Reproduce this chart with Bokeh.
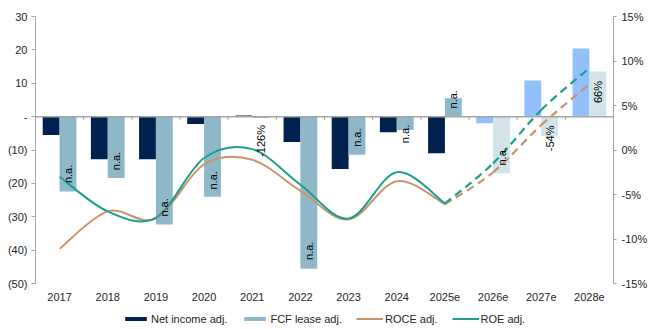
import math

from bokeh.plotting import figure
from bokeh.models import (ColumnDataSource, Range1d, LinearAxis, FixedTicker,
                          CustomJSTickFormatter, Span, Legend, LegendItem)
from bokeh.core.properties import value
from bokeh.embed import file_html
from bokeh.resources import INLINE

# ---- data -------------------------------------------------------------
years = ["2017", "2018", "2019", "2020", "2021", "2022", "2023", "2024",
         "2025e", "2026e", "2027e", "2028e"]
net_income_adj = [-5.5, -12.8, -12.8, -2.2, 0.3, -7.6, -15.7, -4.7,
                  -11.0, -2.0, 10.8, 20.4]
fcf_lease_adj = [-22.4, -18.4, -32.3, -24.0, -0.4, -45.6, -11.4, -4.0,
                 5.5, -17.0, -5.9, 13.5]
fcf_growth_labels = ["n.a.", "n.a.", "n.a.", "n.a.", "-126%", "n.a.", "n.a.",
                     "n.a.", "n.a.", "n.a.", "-54%", "66%"]
roce_adj = [-11.1, -6.9, -7.7, -1.6, -1.1, -4.6, -7.8, -3.5,
            -6.1, -2.5, 2.8, 7.4]   # %
roe_adj = [-3.0, -6.9, -7.6, -0.9, 0.1, -3.9, -7.7, -2.5,
           -6.0, -1.5, 4.5, 9.2]    # %

left_lo, left_hi = -50, 30
right_lo, right_hi = -15, 15

# ---- styling ----------------------------------------------------------
FONT = "Liberation Sans"
NAVY, NAVY_EST = "#00214E", "#93BFFB"
TEAL_BAR, TEAL_BAR_EST = "#8EB8C8", "#D2E3E9"
ROCE_C, ROE_C = "#C8956B", "#1E9E8C"
AXIS_C, TEXT_C = "#A6A6A6", "#262626"
BAR_W = 0.35

W, H = 650, 329
TOP, AXIS_PX = 16, 267          # plotted value band: top offset and height
FOOT = H - TOP - AXIS_PX        # room under the value band (years + legend)

line_split = years.index("2025e")      # solid up to here, dashed after
shade_split = years.index("2026e")     # lighter bar shades from here
# screen shift (px, downwards) of each growth label from its bar's end
label_shift_px = [-17.5, -17, -17, -16.5, 23, -18, -17, 4, 1, -17, 2, 20.5]

xc = [i + 0.5 for i in range(len(years))]

bars = ColumnDataSource(dict(
    x_ni=[x - BAR_W / 2 for x in xc],
    x_fcf=[x + BAR_W / 2 for x in xc],
    ni=net_income_adj,
    fcf=fcf_lease_adj,
    ni_col=[NAVY if i < shade_split else NAVY_EST for i in range(len(years))],
    fcf_col=[TEAL_BAR if i < shade_split else TEAL_BAR_EST for i in range(len(years))],
    lbl=fcf_growth_labels,
    shift=label_shift_px,
))

# the frame runs to the bottom edge; axes are bounded to the value band
y_foot = FOOT * (left_hi - left_lo) / AXIS_PX
r_foot = FOOT * (right_hi - right_lo) / AXIS_PX
p = figure(width=W, height=H, x_range=Range1d(0, len(years)),
           y_range=Range1d(left_lo - y_foot, left_hi), output_backend="svg",
           toolbar_location=None, x_axis_location=None,
           min_border_left=35, min_border_right=35,
           min_border_top=TOP, min_border_bottom=0)
p.outline_line_color = None
p.xgrid.visible = False
p.ygrid.visible = False
p.background_fill_color = "white"
p.extra_y_ranges = {"pct": Range1d(right_lo - r_foot, right_hi)}

# ---- axes -------------------------------------------------------------
ya = p.yaxis[0]
ya.bounds = (left_lo, left_hi)
ya.ticker = FixedTicker(ticks=list(range(left_lo, left_hi + 1, 10)))
ya.formatter = CustomJSTickFormatter(
    code="return tick == 0 ? '-' : (tick < 0 ? '(' + (-tick) + ')' : '' + tick);")
ya.axis_line_color = AXIS_C
ya.major_tick_line_color = AXIS_C
ya.major_tick_out = 4
ya.major_tick_in = 0
ya.minor_tick_line_color = None
ya.minor_tick_out = 0
ya.major_label_standoff = 4
ya.major_label_text_font = FONT
ya.major_label_text_font_size = "11px"
ya.major_label_text_color = TEXT_C

ra = LinearAxis(y_range_name="pct", bounds=(right_lo, right_hi),
                ticker=FixedTicker(ticks=list(range(right_lo, right_hi + 1, 5))),
                formatter=CustomJSTickFormatter(code="return tick + '%';"))
ra.axis_line_color = AXIS_C
ra.major_tick_line_color = AXIS_C
ra.major_tick_out = 3
ra.major_tick_in = 0
ra.minor_tick_line_color = None
ra.minor_tick_out = 0
ra.major_label_standoff = 5
ra.major_label_text_font = FONT
ra.major_label_text_font_size = "11px"
ra.major_label_text_color = TEXT_C
p.add_layout(ra, "right")

# year labels under the value band
p.text(x=xc, y=[left_lo] * len(years), text=years, y_offset=13,
       text_align="center", text_baseline="middle", text_font=value(FONT),
       text_font_size="11px", text_color=TEXT_C)

# ---- bars -------------------------------------------------------------
r_ni = p.vbar(x="x_ni", top="ni", bottom=0, width=BAR_W, source=bars,
              fill_color="ni_col", line_color=None)
r_fcf = p.vbar(x="x_fcf", top="fcf", bottom=0, width=BAR_W, source=bars,
               fill_color="fcf_col", line_color=None)

# zero line with category separators
p.add_layout(Span(location=0, dimension="width", line_color=AXIS_C,
                  line_width=1.5, level="glyph"))
bounds = list(range(1, len(years)))
p.segment(x0=bounds, y0=[0] * len(bounds), x1=bounds, y1=[-1.1] * len(bounds),
          line_color=AXIS_C, line_width=1)


# ---- smoothed return lines (cubic Bezier through each point) ----------
def smooth(xs, ys):
    n = len(xs)
    seg = dict(x0=[], y0=[], x1=[], y1=[], cx0=[], cy0=[], cx1=[], cy1=[])
    for i in range(n - 1):
        a = i - 1 if i > 0 else i
        d = i + 2 if i + 2 < n else i + 1
        seg["x0"].append(xs[i]); seg["y0"].append(ys[i])
        seg["x1"].append(xs[i + 1]); seg["y1"].append(ys[i + 1])
        seg["cx0"].append(xs[i] + (xs[i + 1] - xs[a]) / 6)
        seg["cy0"].append(ys[i] + (ys[i + 1] - ys[a]) / 6)
        seg["cx1"].append(xs[i + 1] - (xs[d] - xs[i]) / 6)
        seg["cy1"].append(ys[i + 1] - (ys[d] - ys[i]) / 6)
    return ColumnDataSource(seg)


solid = {}
for name, series, col in (("roce", roce_adj, ROCE_C), ("roe", roe_adj, ROE_C)):
    actual = smooth(xc[:line_split + 1], series[:line_split + 1])
    outlook = smooth(xc[line_split:], series[line_split:])
    solid[name] = p.bezier(x0="x0", y0="y0", x1="x1", y1="y1", cx0="cx0",
                           cy0="cy0", cx1="cx1", cy1="cy1", source=actual,
                           y_range_name="pct", line_color=col, line_width=2)
    p.bezier(x0="x0", y0="y0", x1="x1", y1="y1", cx0="cx0", cy0="cy0",
             cx1="cx1", cy1="cy1", source=outlook, y_range_name="pct",
             line_color=col, line_width=2.2, line_dash="8 5")

# growth labels on the FCF bars, above the lines
p.text(x="x_fcf", y="fcf", text="lbl", source=bars, angle=math.pi / 2,
       y_offset="shift", text_align="center", text_baseline="middle",
       text_font=value(FONT), text_font_size="11px", text_color="black")

legend = Legend(items=[
    LegendItem(label="Net income adj.", renderers=[r_ni], index=0),
    LegendItem(label="FCF lease adj.", renderers=[r_fcf], index=0),
    LegendItem(label="ROCE adj.", renderers=[solid["roce"]], index=0),
    LegendItem(label="ROE adj.", renderers=[solid["roe"]], index=0),
], orientation="horizontal", location=(87, 4), padding=0, margin=0,
    spacing=14, glyph_width=27, glyph_height=5, label_height=13,
    label_standoff=2, label_text_font=FONT, label_text_font_size="11px",
    label_text_color=TEXT_C, border_line_color=None, background_fill_alpha=0)
p.add_layout(legend)

open("out.html", "w").write(file_html(p, INLINE))
